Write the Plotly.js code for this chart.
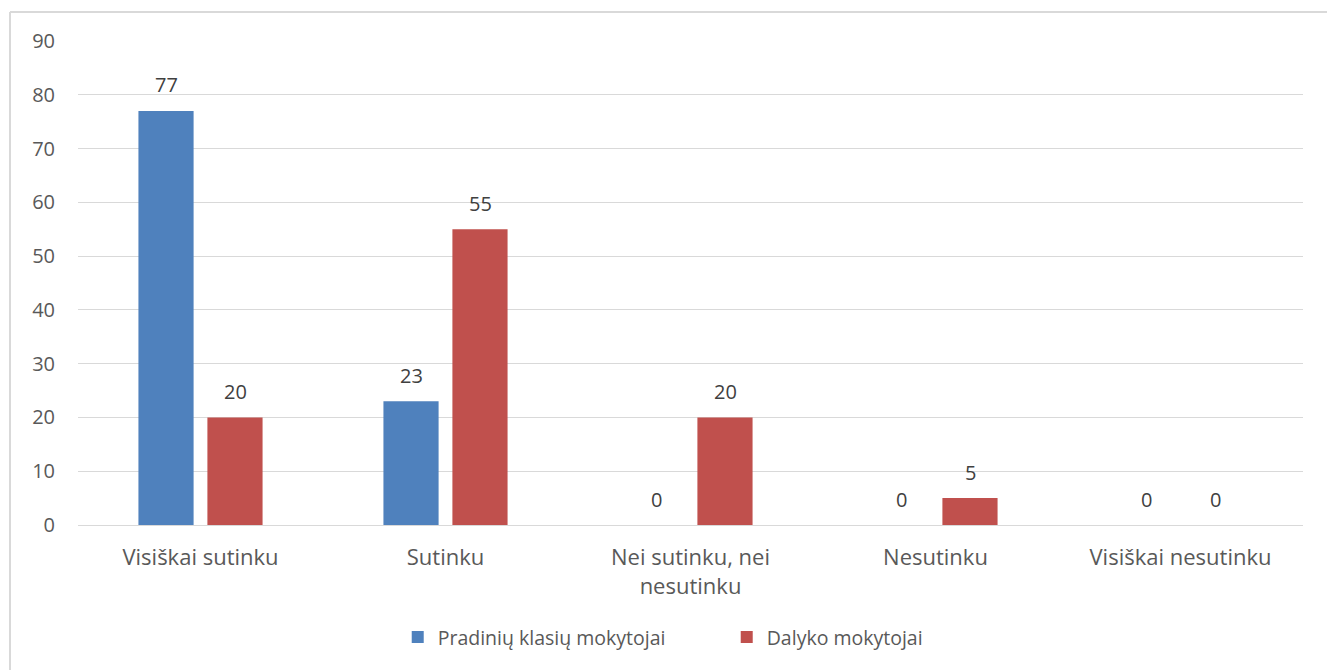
<!DOCTYPE html>
<html>
<head>
<meta charset="utf-8">
<script src="https://cdn.plot.ly/plotly-3.0.1.min.js"></script>
<style>html,body{margin:0;padding:0;background:#fff;}#chart{width:1327px;height:670px;}</style>
</head>
<body>
<div id="chart"></div>
<script>
const categories = ["Visiškai sutinku", "Sutinku", "Nei sutinku, nei<br>nesutinku", "Nesutinku", "Visiškai nesutinku"];
const seriesNames = ["Pradinių klasių mokytojai", "Dalyko mokytojai"];
const pradiniuValues = [77, 23, 0, 0, 0];
const dalykoValues = [20, 55, 20, 5, 0];
const yTicks = [0, 10, 20, 30, 40, 50, 60, 70, 80, 90];

const FONT = "Open Sans, sans-serif";
const seriesColors = ["#4F81BD", "#C0504D"];
const seriesValues = [pradiniuValues, dalykoValues];

const data = seriesValues.map((vals, i) => ({
  type: "bar", name: seriesNames[i], x: categories, y: vals,
  marker: {color: seriesColors[i]},
  hoverinfo: "x+y"
}));

const slotShift = 34.5;
const annotations = [];
seriesValues.forEach((vals, i) => {
  vals.forEach((v, j) => {
    annotations.push({
      x: categories[j], y: v, xref: "x", yref: "y",
      text: String(v), showarrow: false,
      xshift: (i === 0 ? -slotShift : slotShift), yshift: 26,
      xanchor: "center", yanchor: "middle",
      font: {family: FONT, size: 20, color: "#404040"}
    });
  });
});

const layout = {
  width: 1327, height: 670,
  margin: {l: 78, r: 24, t: 41, b: 145},
  paper_bgcolor: "#fff", plot_bgcolor: "#fff",
  barmode: "group", bargap: 0.437, bargroupgap: 0.2,
  font: {family: FONT, color: "#595959", size: 20},
  showlegend: true,
  legend: {orientation: "h", x: 0.261, xanchor: "left", y: -0.192, yanchor: "top",
           entrywidth: 284, entrywidthmode: "pixels",
           font: {family: FONT, size: 19.5, color: "#595959"}, traceorder: "normal"},
  xaxis: {type: "category", showline: false, ticks: "", ticklabelstandoff: 17,
          tickfont: {family: FONT, size: 22, color: "#595959"}, automargin: false},
  yaxis: {range: [0, 90], tickvals: yTicks, showgrid: true, gridcolor: "#D9D9D9", gridwidth: 1,
          zeroline: true, zerolinecolor: "#D9D9D9", showline: false, ticks: "",
          ticklabelstandoff: 22,
          tickfont: {family: FONT, size: 20, color: "#595959"}, automargin: false},
  annotations: annotations,
  shapes: [
    {type: "line", xref: "paper", yref: "paper", x0: (10-78)/1225, x1: 1.03, y0: (525-12)/484, y1: (525-12)/484,
     line: {color: "#D9D9D9", width: 2}},
    {type: "line", xref: "paper", yref: "paper", x0: (10-78)/1225, x1: (10-78)/1225, y0: (525-12)/484, y1: -0.4,
     line: {color: "#D9D9D9", width: 2}}
  ]
};
Plotly.newPlot("chart", data, layout, {displayModeBar: false, staticPlot: true});
</script>
</body>
</html>
